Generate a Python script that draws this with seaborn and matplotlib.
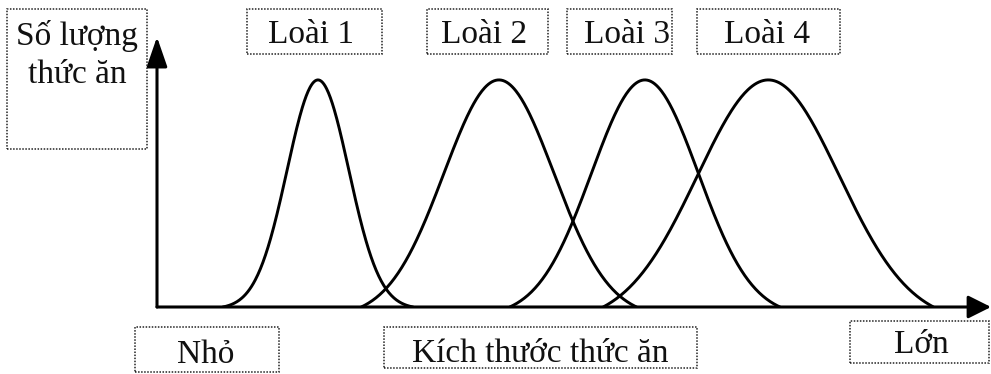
import numpy as np
import pandas as pd
import matplotlib
matplotlib.use("Agg")
import matplotlib.pyplot as plt
import seaborn as sns
from matplotlib.patches import Rectangle


# niche curves: position of peak on food-size axis, spread, reach of the tails
species = ["Loài 1", "Loài 2", "Loài 3", "Loài 4"]
peak_size = [19.3, 41.0, 58.5, 73.3]
spread = [3.7, 6.6, 6.4, 8.5]
reach = [11.4, 16.5, 16.2, 19.8]
peak_amount = [1.0, 1.0, 1.0, 1.0]

y_label = "Số lượng\nthức ăn"
x_label = "Kích thước thức ăn"
x_small = "Nhỏ"
x_large = "Lớn"

W, H = 991, 374
FONT = ["Liberation Serif", "DejaVu Serif"]


def build_curves():
    rows = []
    for name, c, s, w, a in zip(species, peak_size, spread, reach, peak_amount):
        x = np.linspace(c - w, c + w, 300)
        g = np.exp(-0.5 * ((x - c) / s) ** 2)
        edge = np.exp(-0.5 * (w / s) ** 2)
        y = a * np.clip((g - edge) / (1 - edge), 0, None)
        rows.append(pd.DataFrame({"species": name, "size": x, "amount": y}))
    return pd.concat(rows, ignore_index=True)


def px_box(fig, x0, y0, x1, y1):
    fig.add_artist(Rectangle(
        (x0 / W, 1 - y1 / H), (x1 - x0) / W, (y1 - y0) / H,
        transform=fig.transFigure, fill=False, edgecolor="#222222",
        linewidth=1.1, linestyle=(0, (1, 1)),
    ))


def px_text(fig, x, y, s, va="baseline", **kw):
    fig.text(x / W, 1 - y / H, s, ha="center", va=va, fontsize=24,
             family=FONT, color="#111111", **kw)


def main():
    sns.set_style("white")
    plt.rcParams["font.family"] = FONT

    fig = plt.figure(figsize=(W / 100, H / 100), dpi=100)
    ax = fig.add_axes([157 / W, (H - 307) / H, (W - 157) / W, (307 - 37) / H])

    df = build_curves()
    sns.lineplot(data=df, x="size", y="amount", units="species",
                 estimator=None, color="black", linewidth=2.1, ax=ax,
                 sort=False)

    ax.set_xlim(0, 100)
    ax.set_ylim(0, 1.189)
    ax.set_xlabel("")
    ax.set_ylabel("")
    ax.set_xticks([])
    ax.set_yticks([])
    for sp in ax.spines.values():
        sp.set_visible(False)

    arrow = dict(arrowstyle="-|>,head_length=1.0,head_width=0.5",
                 color="black", lw=2.2, shrinkA=0, shrinkB=0,
                 mutation_scale=14, clip_on=False)
    ax.annotate("", xy=(1.0, 0), xytext=(0, 0), xycoords="axes fraction",
                arrowprops=arrow, annotation_clip=False)
    ax.annotate("", xy=(0, 1.0), xytext=(0, 0), xycoords="axes fraction",
                arrowprops=dict(arrow, arrowstyle="-|>,head_length=1.3,head_width=0.45"),
                annotation_clip=False)

    # label boxes
    px_box(fig, 7, 9, 147, 149)
    px_text(fig, 77, 55, y_label, va="center", linespacing=1.3)

    box_x = [(247, 382), (427, 548), (567, 672), (697, 840)]
    text_x = [311, 484, 627, 767]
    for name, (x0, x1), tx in zip(species, box_x, text_x):
        px_box(fig, x0, 9, x1, 54)
        px_text(fig, tx, 43, name)

    px_box(fig, 135, 327, 279, 372)
    px_text(fig, 206, 363, x_small)
    px_box(fig, 384, 327, 697, 368)
    px_text(fig, 540, 362, x_label)
    px_box(fig, 850, 321, 989, 363)
    px_text(fig, 921, 353, x_large)

    fig.savefig("out.png", dpi=100)
    plt.close(fig)


if __name__ == "__main__":
    main()
